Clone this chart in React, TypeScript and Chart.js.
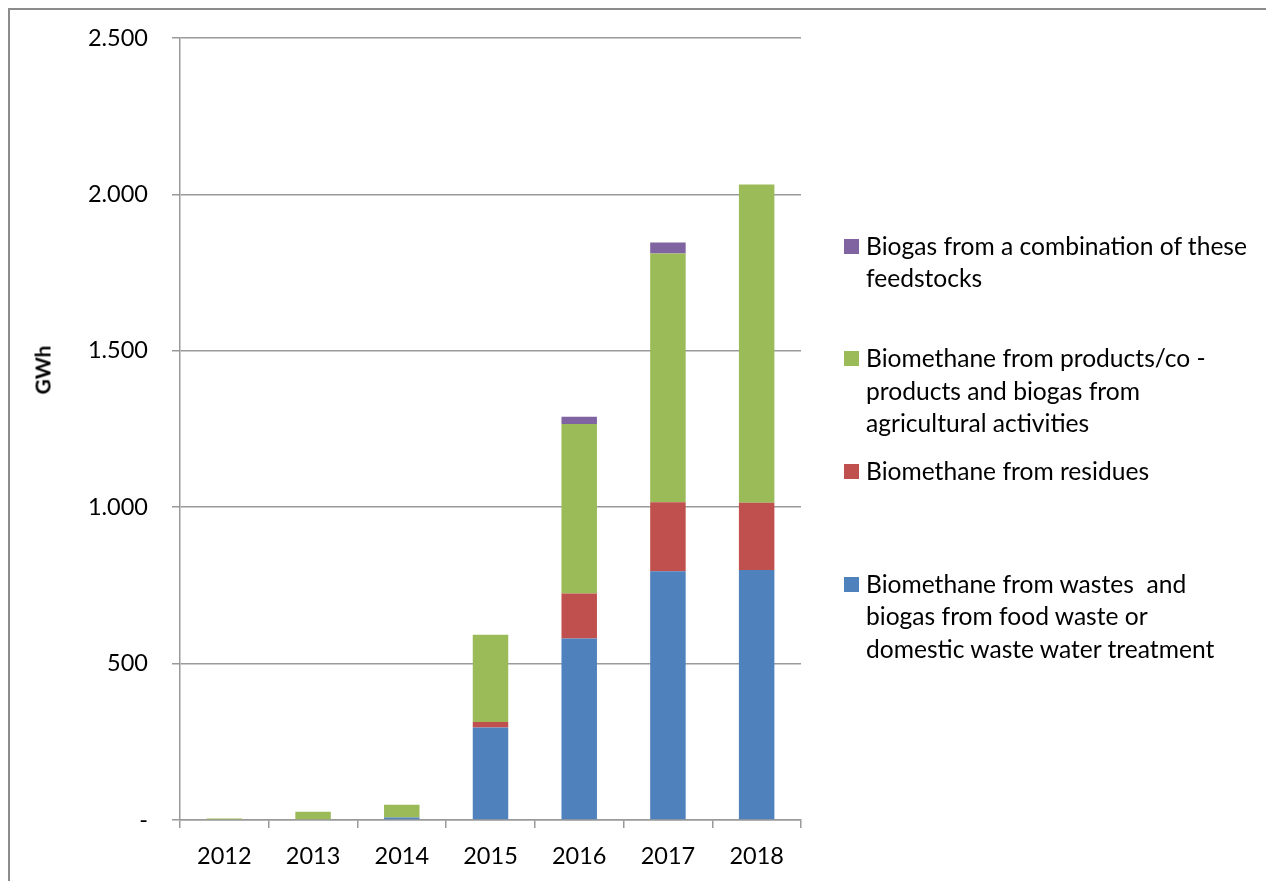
import React, { useEffect, useRef } from "react";
import { Chart, registerables } from "chart.js";

Chart.register(...registerables);

// ---- data ----
const years = ["2012", "2013", "2014", "2015", "2016", "2017", "2018"];
const wastes = [0, 0, 8, 296, 580, 795, 799];
const residues = [0, 0, 0, 17, 144, 221, 215];
const agricultural = [5, 26, 41, 279, 542, 795, 1018];
const combination = [0, 0, 0, 0, 23, 35, 0];

const yTickValues = [0, 500, 1000, 1500, 2000, 2500];
const yTickLabels = ["-", "500", "1.000", "1.500", "2.000", "2.500"];
const yTitle = "GWh";

const labelWastes = ["Biomethane from wastes  and", "biogas from food waste or", "domestic waste water treatment"];
const labelResidues = ["Biomethane from residues"];
const labelAgricultural = ["Biomethane from products/co -", "products and biogas from", "agricultural activities"];
const labelCombination = ["Biogas from a combination of these", "feedstocks"];

// ---- styles ----
const COLORS = {
  blue: "#4F81BD",
  red: "#C0504D",
  green: "#9BBB59",
  purple: "#8064A2",
  grid: "#9a9a9a",
};
const FONT = "Lato, 'Open Sans', sans-serif";
const TICK_SIZE = 23.5;
const LEGEND_SIZE = 24.6;

const series = [
  { lines: labelWastes, data: wastes, color: COLORS.blue },
  { lines: labelResidues, data: residues, color: COLORS.red },
  { lines: labelAgricultural, data: agricultural, color: COLORS.green },
  { lines: labelCombination, data: combination, color: COLORS.purple },
];

const CANVAS_W = 1256;
const CANVAS_H = 871;

export default function App() {
  const ref = useRef<HTMLCanvasElement | null>(null);

  useEffect(() => {
    document.documentElement.style.overflow = "hidden";
    document.body.style.overflow = "hidden";
    document.body.style.marginRight = "0px";
    document.body.style.marginBottom = "0px";
    if (!ref.current) return;
    const chart = new Chart(ref.current, {
      type: "bar",
      data: {
        labels: years,
        datasets: series.map((s) => ({
          label: s.lines.join(" "),
          data: s.data,
          backgroundColor: s.color,
          borderWidth: 0,
          barPercentage: 0.4,
          categoryPercentage: 1.0,
        })),
      },
      options: {
        animation: false,
        responsive: false,
        devicePixelRatio: 1,
        layout: { padding: { left: 0, top: 28, right: CANVAS_W - 791, bottom: 11 } },
        plugins: {
          legend: { display: false },
          tooltip: { enabled: false },
        },
        scales: {
          x: {
            stacked: true,
            grid: {
              display: true,
              drawOnChartArea: false,
              drawTicks: true,
              tickLength: 8,
              color: COLORS.grid,
              lineWidth: 1.5,
              offset: true,
            },
            border: { display: true, color: COLORS.grid, width: 1.5 },
            ticks: {
              color: "#000",
              font: { family: FONT, size: TICK_SIZE },
              padding: 14,
              maxRotation: 0,
            },
            afterFit: (scale: any) => {
              scale.height = 50;
            },
          },
          y: {
            stacked: true,
            min: 0,
            max: 2500,
            ticks: {
              stepSize: 500,
              color: "#000",
              font: { family: FONT, size: TICK_SIZE },
              padding: 24,
              callback: (value: any) => {
                const i = yTickValues.indexOf(Number(value));
                return i >= 0 ? yTickLabels[i] : "";
              },
            },
            grid: {
              color: COLORS.grid,
              lineWidth: 1.5,
              tickLength: 8,
              drawTicks: true,
            },
            border: { display: true, color: COLORS.grid, width: 1.5 },
            afterFit: (scale: any) => {
              scale.width = 170;
              scale.paddingTop = 14;
              scale.paddingBottom = 14;
            },
          },
        },
      },
    });
    return () => chart.destroy();
  }, []);

  const legendItems = [...series].reverse();
  const lineH = 32.5;

  return (
    <div
      style={{
        position: "relative",
        width: 1258,
        height: 873,
        boxSizing: "border-box",
        borderTop: "2px solid #8c8c8c",
        borderLeft: "2px solid #8c8c8c",
        fontFamily: FONT,
        overflow: "hidden",
      }}
    >
      <canvas
        ref={ref}
        width={CANVAS_W}
        height={CANVAS_H}
        style={{ position: "absolute", left: 0, top: 0, width: CANVAS_W, height: CANVAS_H }}
      />
      <div
        style={{
          position: "absolute",
          left: 32,
          top: 360,
          transform: "translate(-50%, -50%) rotate(-90deg)",
          fontWeight: "bold",
          fontSize: 21,
          color: "#000",
          whiteSpace: "nowrap",
        }}
      >
        {yTitle}
      </div>
      {legendItems.map((s, i) => {
        const center = 246 + i * 112.7 - 10;
        return (
          <div key={i}>
            <div
              style={{
                position: "absolute",
                left: 834,
                top: center - 7.5,
                width: 15,
                height: 15,
                background: s.color,
              }}
            />
            <div
              style={{
                position: "absolute",
                left: 856,
                top: center - lineH / 2,
                fontSize: LEGEND_SIZE,
                lineHeight: `${lineH}px`,
                color: "#000",
                whiteSpace: "pre",
              }}
            >
              {s.lines.map((l, j) => (
                <div key={j}>{l}</div>
              ))}
            </div>
          </div>
        );
      })}
    </div>
  );
}
